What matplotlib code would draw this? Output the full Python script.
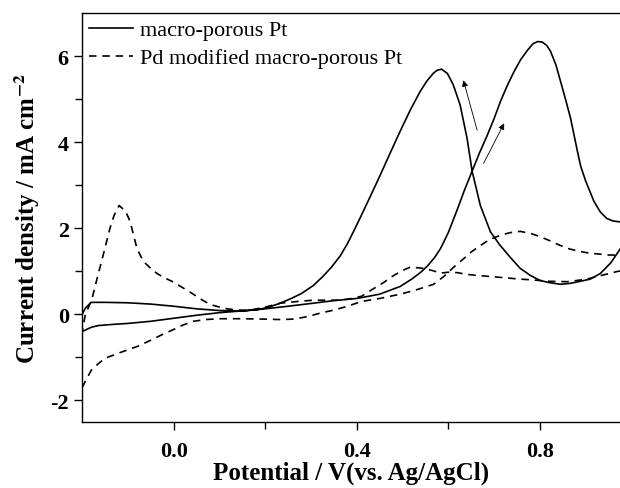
import matplotlib
matplotlib.use('Agg')
import matplotlib.pyplot as plt
import numpy as np

plt.rcParams['font.family'] = 'Liberation Serif'
plt.rcParams['mathtext.fontset'] = 'stix'

# macro-porous Pt, forward scan
pt_fwd_v = [-0.2, -0.18, -0.165, -0.13, -0.1, -0.05, 0.0, 0.05, 0.1, 0.16, 0.2, 0.25,
            0.305, 0.35, 0.40, 0.45, 0.495, 0.52, 0.54, 0.554, 0.57, 0.583, 0.60, 0.619,
            0.635, 0.652, 0.668, 0.685, 0.70, 0.714, 0.728, 0.743, 0.758, 0.773, 0.785,
            0.795, 0.805, 0.815, 0.823, 0.835, 0.845, 0.856, 0.867, 0.875, 0.882, 0.889,
            0.90, 0.918, 0.932, 0.946, 0.96, 0.975, 1.0]
pt_fwd_i = [-0.40, -0.30, -0.26, -0.23, -0.21, -0.16, -0.09, -0.02, 0.04, 0.09, 0.13, 0.19,
            0.26, 0.32, 0.37, 0.47, 0.65, 0.82, 0.98, 1.12, 1.32, 1.53, 1.90, 2.42,
            2.88, 3.33, 3.75, 4.16, 4.55, 4.95, 5.30, 5.63, 5.92, 6.14, 6.29,
            6.34, 6.33, 6.25, 6.12, 5.80, 5.42, 5.00, 4.56, 4.15, 3.79, 3.45,
            3.10, 2.63, 2.38, 2.23, 2.17, 2.15, 2.14]
# macro-porous Pt, reverse scan
pt_rev_v = [1.0, 0.976, 0.955, 0.932, 0.91, 0.889, 0.865, 0.845, 0.82, 0.80, 0.78, 0.757,
            0.735, 0.712, 0.692, 0.67, 0.652, 0.641, 0.626, 0.611, 0.598, 0.585, 0.575,
            0.567, 0.553, 0.539, 0.517, 0.495, 0.473, 0.451, 0.43, 0.41, 0.395, 0.38,
            0.364, 0.345, 0.325, 0.305, 0.28, 0.255, 0.23, 0.205, 0.183, 0.15, 0.1, 0.05,
            0.0, -0.05, -0.1, -0.15, -0.18, -0.193, -0.2]
pt_rev_i = [1.95, 1.53, 1.20, 0.95, 0.82, 0.77, 0.72, 0.70, 0.74, 0.79, 0.90, 1.07,
            1.33, 1.62, 1.92, 2.53, 3.33, 4.09, 4.86, 5.33, 5.60, 5.70, 5.67,
            5.60, 5.42, 5.19, 4.75, 4.26, 3.75, 3.23, 2.75, 2.30, 1.97, 1.65,
            1.36, 1.10, 0.87, 0.67, 0.49, 0.36, 0.25, 0.16, 0.11, 0.08, 0.09, 0.13,
            0.19, 0.24, 0.27, 0.28, 0.28, 0.14, 0.0]

# Pd modified macro-porous Pt, forward scan
pd_fwd_v = [-0.2, -0.19, -0.18, -0.165, -0.15, -0.115, -0.078, -0.05, -0.025, 0.0, 0.02,
            0.043, 0.07, 0.1, 0.15, 0.2, 0.233, 0.26, 0.283, 0.30, 0.32, 0.35, 0.38,
            0.41, 0.45, 0.495, 0.53, 0.568, 0.59, 0.61, 0.634, 0.65, 0.67, 0.69, 0.714,
            0.735, 0.757, 0.78, 0.80, 0.82, 0.845, 0.865, 0.889, 0.91, 0.932, 0.95,
            0.97, 1.0]
pd_fwd_i = [-1.70, -1.50, -1.30, -1.15, -1.02, -0.88, -0.74, -0.60, -0.47, -0.35, -0.25,
            -0.16, -0.12, -0.10, -0.10, -0.11, -0.12, -0.11, -0.07, -0.03, 0.03, 0.10, 0.19,
            0.30, 0.37, 0.47, 0.57, 0.70, 0.88, 1.08, 1.30, 1.45, 1.60, 1.74, 1.84,
            1.90, 1.93, 1.88, 1.81, 1.72, 1.60, 1.52, 1.46, 1.42, 1.40, 1.38,
            1.38, 1.40]
# Pd modified macro-porous Pt, reverse scan
pd_rev_v = [1.0, 0.97, 0.932, 0.91, 0.889, 0.86, 0.82, 0.786, 0.757, 0.714, 0.67, 0.64,
            0.62, 0.60, 0.583, 0.565, 0.546, 0.517, 0.50, 0.48, 0.46, 0.437, 0.41, 0.385,
            0.357, 0.33, 0.305, 0.27, 0.233, 0.2, 0.167, 0.14, 0.117, 0.1, 0.08, 0.06,
            0.043, 0.02, 0.0, -0.02, -0.036, -0.05, -0.066, -0.08, -0.095, -0.105,
            -0.119, -0.13, -0.139, -0.154, -0.167, -0.178, -0.193, -0.2]
pd_rev_i = [1.05, 1.00, 0.90, 0.84, 0.80, 0.76, 0.77, 0.80, 0.82, 0.86, 0.90, 0.93,
            0.97, 0.98, 0.96, 1.02, 1.07, 1.10, 1.02, 0.90, 0.75, 0.60, 0.42, 0.36,
            0.33, 0.33, 0.33, 0.30, 0.26, 0.17, 0.10, 0.10, 0.13, 0.17, 0.23, 0.35,
            0.47, 0.62, 0.75, 0.85, 0.95, 1.07, 1.23, 1.53, 2.16, 2.40,
            2.53, 2.30, 2.00, 1.37, 0.84, 0.37, -0.02, -0.40]

# scan direction arrows (tail, head)
arrows = [((0.663, 4.28), (0.633, 5.44)),
          ((0.677, 3.51), (0.722, 4.44))]

fig = plt.figure(figsize=(6.2, 4.89), dpi=100)
ax = fig.add_axes([0.1323, 0.135, 0.8677, 0.836])

ax.plot(pt_fwd_v + pt_rev_v, pt_fwd_i + pt_rev_i, color='black', lw=1.2,
        label='macro-porous Pt')
ax.plot(pd_fwd_v + pd_rev_v, pd_fwd_i + pd_rev_i, color='black', lw=1.2,
        ls=(0, (4.5, 3.5)), label='Pd modified macro-porous Pt')

for tail, head in arrows:
    ax.annotate('', xy=head, xytext=tail,
                arrowprops=dict(arrowstyle='-|>', color='black', lw=0.6,
                                mutation_scale=9, shrinkA=0, shrinkB=0))

ax.set_xlim(-0.2, 0.975)
ax.set_ylim(-2.5, 7)
ax.set_xticks([0.0, 0.4, 0.8])
ax.set_xticks([0.2, 0.6], minor=True)
ax.set_yticks([-2, 0, 2, 4, 6])
ax.set_yticks([-1, 1, 3, 5], minor=True)
ax.set_xticklabels(['0.0', '0.4', '0.8'])
ax.set_yticklabels(['-2', '0', '2', '4', '6'])
ax.tick_params(which='major', direction='out', length=6, width=1, labelsize=16)
ax.tick_params(axis='x', which='major', pad=7.5)
ax.tick_params(which='minor', direction='out', length=5, width=1)
for lab in ax.get_xticklabels() + ax.get_yticklabels():
    lab.set_fontweight('bold')
ax.spines['right'].set_visible(False)
for s in ['left', 'top', 'bottom']:
    ax.spines[s].set_linewidth(1)

ax.set_xlabel('Potential / V(vs. Ag/AgCl)', fontsize=18, fontweight='bold', labelpad=0)
ax.set_ylabel(r'Current density / mA cm$^{\mathbf{-2}}$', fontsize=18,
              fontweight='bold', labelpad=6)

ax.legend(loc='upper left', frameon=False, fontsize=16, handlelength=2.0,
          handletextpad=0.3, labelspacing=0.33, borderaxespad=0.1, borderpad=0.2)

fig.savefig('out.png', dpi=100)
